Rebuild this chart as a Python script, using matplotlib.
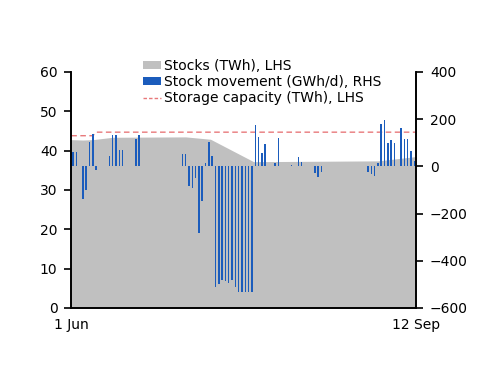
import matplotlib
matplotlib.use("Agg")
import matplotlib.pyplot as plt
from matplotlib.patches import Patch
from matplotlib.lines import Line2D
import numpy as np

# day offsets from 1 Jun (0) to 12 Sep (103)
days = np.arange(104)

# stock movement, GWh/d (RHS)
movement = [
    62, 62, 0, -137, -101, 105, 136, -15, 0, 0,
    0, 44, 133, 133, 68, 68, 0, 0, 3, 115,
    133, 0, 2, 0, 0, 0, 0, 0, 0, 0,
    0, 0, 0, 51, 51, -83, -90, -50, -281, -147,
    13, 105, 44, -510, -498, -481, -484, -493, -481, -512,
    -531, -531, -531, -531, -531, 175, 126, 58, 95, 0,
    0, 13, 122, 0, 0, 0, 5, 0, 38, 17,
    0, 0, 0, -27, -44, -24, 0, 0, 0, 0,
    0, 0, 0, 0, 0, 0, 0, 0, 0, -24,
    -34, -41, 16, 180, 197, 98, 112, 98, 0, 164,
    116, 116, 65, 24,
]

# stocks, TWh (LHS), read at turning points
stock_days = [-0.5, 3, 6, 12, 34, 41.5, 54.5, 92, 103.5]
stock_vals = [42.8, 42.7, 42.8, 43.4, 43.5, 42.9, 37.2, 37.4, 38.5]

# storage capacity, TWh (LHS)
cap_days = [-0.5, 6, 7, 103.5]
cap_vals = [43.8, 43.8, 44.7, 44.7]

date_labels = ['1 Jun', '12 Sep']

grey = '#c0c0c0'
blue = '#1b5cbc'
red = '#e8787a'

plt.rcParams['font.family'] = 'DejaVu Sans'
plt.rcParams['font.size'] = 10

fig = plt.figure(figsize=(5, 3.86), dpi=100)
ax = fig.add_axes([0.1426, 0.2021, 0.6894, 0.6114])
ax2 = ax.twinx()

ax.fill_between(stock_days, stock_vals, 0, color=grey, linewidth=0)
ax.plot(cap_days, cap_vals, color=red, lw=1, dashes=(4, 2.5))
ax2.bar(days, movement, width=0.45, color=blue, linewidth=0)

ax.set_xlim(-0.5, 103.5)
ax.set_ylim(0, 60)
ax.set_yticks(range(0, 61, 10))
ax2.set_ylim(-600, 400)
ax2.set_yticks(range(-600, 401, 200))
ax.set_xticks([-0.5, 103.5], date_labels)

for a in (ax, ax2):
    a.spines['top'].set_visible(False)
    for s in ('left', 'right', 'bottom'):
        a.spines[s].set_linewidth(1.2)
ax.tick_params(axis='y', direction='out', length=5, width=1.2, pad=5, labelsize=10)
ax2.tick_params(axis='y', direction='out', length=5, width=1.2, pad=5, labelsize=10)
ax.tick_params(axis='x', length=0, pad=7, labelsize=10)

handles = [
    Patch(facecolor=grey, edgecolor='none'),
    Patch(facecolor=blue, edgecolor='none'),
    Line2D([0], [0], color=red, lw=1, dashes=(2.5, 1.5)),
]
labels = ['Stocks (TWh), LHS', 'Stock movement (GWh/d), RHS',
          'Storage capacity (TWh), LHS']
fig.legend(handles, labels, loc='upper left', bbox_to_anchor=(0.272, 0.865),
           frameon=False, borderpad=0, handlelength=1.3, handleheight=0.45,
           handletextpad=0.2, labelspacing=0.15, fontsize=10)

fig.savefig('out.png', dpi=100)
